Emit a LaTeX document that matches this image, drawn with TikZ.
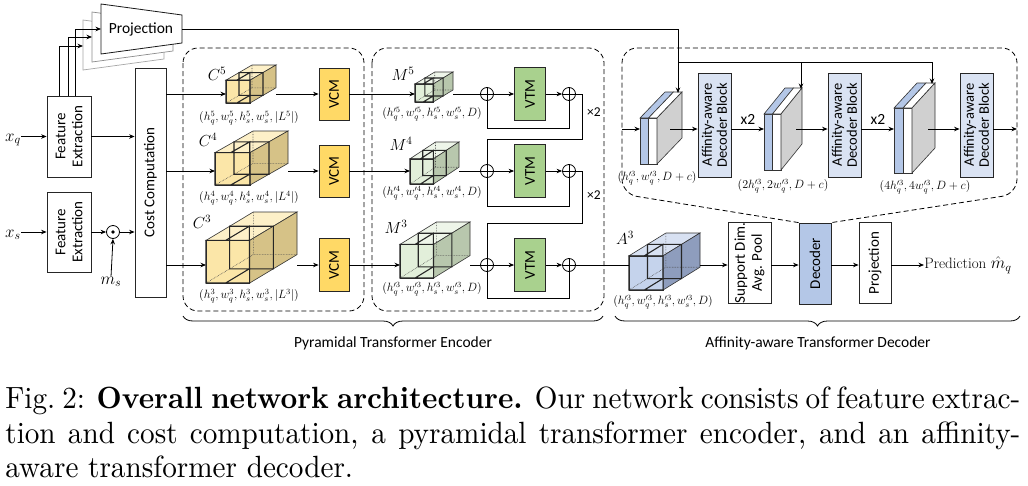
\RequirePackage{fix-cm}
\documentclass[tikz,border=0pt]{standalone}
\usepackage{fontspec}
\newfontfamily\calib{Carlito}
\usetikzlibrary{arrows.meta,decorations.pathreplacing,calc}
\definecolor{vcmfill}{HTML}{FFD966}
\definecolor{vtmfill}{HTML}{A9D18E}
\definecolor{decfill}{HTML}{B4C7E7}
\definecolor{adbfill}{HTML}{DAE3F3}
\definecolor{slabgray}{HTML}{D0D0D0}
\definecolor{Cfront}{HTML}{FBE6A8}
\definecolor{Ctop}{HTML}{FDF0C8}
\definecolor{Cside}{HTML}{D6C287}
\definecolor{Mfront}{HTML}{E2EFDA}
\definecolor{Mtop}{HTML}{EEF5E9}
\definecolor{Mside}{HTML}{B8C7AD}
\definecolor{Afront}{HTML}{C5D3EC}
\definecolor{Atop}{HTML}{D8E1F2}
\definecolor{Aside}{HTML}{8E9DBD}
\newcommand\volcube[5]{%
 \pgfmathsetmacro\vcdx{0.52*(#3-#1)}%
 \pgfmathsetmacro\vcdy{0.4*(#4-#2)}%
 \pgfmathsetmacro\vcfw{(#3-#1)-\vcdx}%
 \pgfmathsetmacro\vcfh{(#4-#2)-\vcdy}%
 \begin{scope}[shift={(#1,{#2+\vcdy})},x={(\vcfw pt,0pt)},y={(0pt,-\vcfh pt)},z={(\vcdx pt,\vcdy pt)},line width=0.6pt]
  \filldraw[fill=#5front,draw=black!80] (0,0,0)--(1,0,0)--(1,1,0)--(0,1,0)--cycle;
  \filldraw[fill=#5top,draw=black!80] (0,0,0)--(0,0,1)--(1,0,1)--(1,0,0)--cycle;
  \filldraw[fill=#5side,draw=black!80] (1,0,0)--(1,0,1)--(1,1,1)--(1,1,0)--cycle;
  \draw[densely dotted,black!70] (0,1,0)--(0,1,1)--(1,1,1) (0,0,1)--(0,1,1);
  \draw[line width=1.1pt,black!85] (0,0,0)--(1,0,0)--(1,1,0)--(0,1,0)--cycle
    (0,0,0.5)--(1,0,0.5)--(1,1,0.5)--(0,1,0.5)--cycle
    (0.45,0,0)--(0.45,0,0.5)--(0.45,1,0.5)--(0.45,1,0);
 \end{scope}}
\newcommand\slab[6]{%
 \pgfmathsetmacro\slm{(#1+#3)/2}%
 \begin{scope}[line width=0.6pt,draw=black!80]
 \filldraw[fill=decfill] (#1,#2) rectangle (\slm,#4);
 \filldraw[fill=white] (\slm,#2) rectangle (#3,#4);
 \filldraw[fill=decfill] (#1,#2)--({#1+#5},{#2-#6})--({\slm+#5},{#2-#6})--(\slm,#2)--cycle;
 \filldraw[fill=white] (\slm,#2)--({\slm+#5},{#2-#6})--({#3+#5},{#2-#6})--(#3,#2)--cycle;
 \filldraw[fill=slabgray] (#3,#2)--({#3+#5},{#2-#6})--({#3+#5},{#4-#6})--(#3,#4)--cycle;
 \end{scope}}
\begin{document}
\begin{tikzpicture}[x=1pt,y=-1pt,line width=0.8pt,>={Stealth[length=5.5pt,width=4.5pt]},
 box/.style={draw=black!85,line width=0.8pt,inner sep=0pt},
 lbl/.style={font=\calib\fontsize{15}{17}\selectfont,rotate=90,align=center,inner sep=0pt},
 lblb/.style={font=\calib\fontsize{14.5}{15}\selectfont,rotate=90,align=center,inner sep=0pt},
 dimlbl/.style={font=\fontsize{12}{14}\selectfont,inner sep=0pt},
 vlbl/.style={font=\fontsize{16}{19}\selectfont,inner sep=0pt},
 sumc/.style={circle,draw,minimum size=13pt,inner sep=0pt,line width=0.8pt},
 dashbox/.style={draw,dash pattern=on 5pt off 3pt,line width=0.8pt,rounded corners=15pt},
 brc/.style={decorate,decoration={brace,mirror,amplitude=10pt},line width=0.8pt},
 txt/.style={font=\calib\fontsize{15.5}{18}\selectfont,inner sep=0pt},
 capline/.style={inner sep=0pt,anchor=base west}]
\useasboundingbox (0,0) rectangle (1028,485);
\fill[white] (0,0) rectangle (1028,485);
% ---------------- left part
\node[vlbl,font=\fontsize{17}{20}\selectfont] (xq) at (13,140) {$x_q$};
\node[vlbl,font=\fontsize{17}{20}\selectfont] (xs) at (13,235) {$x_s$};
\node[box,minimum width=44,minimum height=81] (feq) at (69,136.5) {};
\node[lbl] (feqt) at (feq) {Feature\\Extraction};
\node[box,minimum width=44,minimum height=80] (fes) at (69,232) {};
\node[lbl] (fest) at (fes) {Feature\\Extraction};
\node[sumc] (od) at (113,232) {};
\fill (od) circle (1.9);
\node[vlbl,font=\fontsize{17}{20}\selectfont] (ms) at (111,282) {$m_s$};
\node[box,minimum width=31,minimum height=229] (cost) at (150.5,182.5) {};
\node[lbl] (costt) at (cost) {Cost Computation};
\draw[->] (xq.east |- feq) -- (feq.west);
\draw[->] (xs.east |- fes) -- (fes.west);
\draw[->] (fes.east) -- (od.west);
\draw[->] (od.east) -- (od.east -| cost.west);
\draw[->] (ms.north) -- (od.south);
\draw[->] (feq.east) -- (feq.east -| cost.west);
% projection stack
\filldraw[fill=white,draw=black!35,line width=0.7pt] (83,20) -- (164,31) -- (164,59) -- (83,70) -- cycle;
\filldraw[fill=white,draw=black!45,line width=0.7pt] (92,12) -- (173,23) -- (173,51) -- (92,62) -- cycle;
\filldraw[fill=white,draw=black!90,line width=0.8pt] (101,4) -- (182,15) -- (182,43) -- (101,54) -- cycle;
\node[txt] (projt) at (141,29) {Projection};
\coordinate (pb3) at (83,46);
\coordinate (pb2) at (92,37);
\coordinate (pb1) at (101,29);
\draw[->] ($(feq.north west)+(13,0)$) |- (pb3);
\draw[->] ($(feq.north west)+(22,0)$) |- (pb2);
\draw[->] ($(feq.north west)+(29,0)$) |- (pb1);
% ---------------- encoder part 1
\draw[dashbox] (183,48) rectangle (364,311);
\volcube{226}{65}{276}{103}{C}
\volcube{215}{131}{288}{185}{C}
\volcube{206}{212}{297}{283}{C}
\coordinate (c5in) at (226,94); \coordinate (c5out) at (276,94);
\coordinate (c4in) at (215,171); \coordinate (c4out) at (288,171);
\coordinate (c3in) at (206,265); \coordinate (c3out) at (297,265);
\node[vlbl] (c5l) at (217,74) {$C^5$};
\node[vlbl] (c4l) at (208,140) {$C^4$};
\node[vlbl] (c3l) at (202,222) {$C^3$};
\node[dimlbl] (c5d) at (249,118) {$(h_q^5,w_q^5,h_s^5,w_s^5,|L^5|)$};
\node[dimlbl] (c4d) at (249,198) {$(h_q^4,w_q^4,h_s^4,w_s^4,|L^4|)$};
\node[dimlbl] (c3d) at (249,296) {$(h_q^3,w_q^3,h_s^3,w_s^3,|L^3|)$};
\node[box,fill=vcmfill,minimum width=30,minimum height=52] (vcm5) at (334,94) {};
\node[box,fill=vcmfill,minimum width=30,minimum height=52] (vcm4) at (334,171) {};
\node[box,fill=vcmfill,minimum width=30,minimum height=53] (vcm3) at (334,265) {};
\node[lbl] (vcm5t) at (vcm5) {VCM};
\node[lbl] (vcm4t) at (vcm4) {VCM};
\node[lbl] (vcm3t) at (vcm3) {VCM};
\draw[->] (cost.east |- c5in) -- (c5in);
\draw[->] (cost.east |- c4in) -- (c4in);
\draw[->] (cost.east |- c3in) -- (c3in);
\draw[->] (c5out) -- (vcm5.west);
\draw[->] (c4out) -- (vcm4.west);
\draw[->] (c3out) -- (vcm3.west);
% ---------------- encoder part 2
\draw[dashbox] (372,48) rectangle (604,311);
\volcube{415}{72}{453}{102}{M}
\volcube{410}{142}{459}{184}{M}
\volcube{400}{222}{470}{278}{M}
\coordinate (m5in) at (415,94); \coordinate (m5out) at (453,94);
\coordinate (m4in) at (410,171); \coordinate (m4out) at (459,171);
\coordinate (m3in) at (400,265); \coordinate (m3out) at (470,265);
\node[vlbl] (m5l) at (403,74) {$M^5$};
\node[vlbl] (m4l) at (401,144) {$M^4$};
\node[vlbl] (m3l) at (396,227) {$M^3$};
\node[dimlbl] (m5d) at (432,114) {$(h_q^{\prime5},w_q^{\prime5},h_s^{\prime5},w_s^{\prime5},D)$};
\node[dimlbl] (m4d) at (432,193) {$(h_q^{\prime4},w_q^{\prime4},h_s^{\prime4},w_s^{\prime4},D)$};
\node[dimlbl] (m3d) at (432,289) {$(h_q^{\prime3},w_q^{\prime3},h_s^{\prime3},w_s^{\prime3},D)$};
\draw[->] (vcm5.east) -- (m5in);
\draw[->] (vcm4.east) -- (m4in);
\draw[->] (vcm3.east) -- (m3in);
\foreach \r/\yy in {5/94,4/171,3/265}{
  \node[sumc] (o\r1) at (487,\yy) {};
  \node[sumc] (o\r2) at (569,\yy) {};
  \draw (o\r1.north) -- (o\r1.south) (o\r1.west) -- (o\r1.east);
  \draw (o\r2.north) -- (o\r2.south) (o\r2.west) -- (o\r2.east);
  \node[box,fill=vtmfill,minimum width=31,minimum height=53] (vtm\r) at (530,\yy) {};
  \node[lbl] (vtm\r t) at (vtm\r) {VTM};
  \draw (m\r out) -- (o\r1.west);
  \draw[->] (o\r1.east) -- (vtm\r.west);
  \draw[->] (vtm\r.east) -- (o\r2.west);
}
\draw (o51.south) -- (487,128) -- (569,128) -- (o52.south);
\draw (o52.east) -- (582,94) -- (582,139) -- (487,139) -- (o41.north);
\draw (o41.south) -- (487,206) -- (569,206) -- (o42.south);
\draw (o42.east) -- (582,171) -- (582,223) -- (487,223) -- (o31.north);
\draw (o31.south) -- (487,298) -- (569,298) -- (o32.south);
\node[font=\calib\fontsize{13.5}{16}\selectfont,inner sep=0pt] (x2a) at (594,112) {×2};
\node[font=\calib\fontsize{13.5}{16}\selectfont,inner sep=0pt] (x2b) at (594,195) {×2};
% ---------------- decoder bottom row
\volcube{629}{233}{700}{290}{A}
\coordinate (a3in) at (629,265); \coordinate (a3out) at (700,265);
\node[vlbl] (a3l) at (625,238) {$A^3$};
\node[dimlbl] (a3d) at (663,302) {$(h_q^{\prime3},w_q^{\prime3},h_s^{\prime3},w_s^{\prime3},D)$};
\draw (o32.east) -- (a3in);
\node[box,minimum width=43,minimum height=81] (supp) at (749.5,263) {};
\node[lbl] (suppt) at (supp) {Support Dim.\\Avg. Pool};
\node[box,fill=decfill,minimum width=32,minimum height=81] (dec) at (815,263.5) {};
\node[lbl] (dect) at (dec) {Decoder};
\node[box,minimum width=32,minimum height=81] (proj2) at (875,263) {};
\node[lbl] (proj2t) at (proj2) {Projection};
\node[font=\fontsize{15}{18}\selectfont,inner sep=0pt,anchor=west] (pred) at (924,265) {Prediction {\fontsize{17}{20}\selectfont$\hat{m}_q$}};
\draw[->] (a3out) -- (a3out -| supp.west);
\draw[->] (supp.east |- a3out) -- (dec.west |- a3out);
\draw[->] (dec.east |- a3out) -- (proj2.west |- a3out);
\draw[->] (proj2.east |- a3out) -- (pred.west);
% ---------------- decoder zoom box
\draw[dashbox] (dec.north west) -- (622,194) -- (622,48) -- (1017,48) -- (1017,194) -- (dec.north east);
\slab{640}{118}{657}{164}{25}{26}
\slab{764}{114}{781}{170}{21}{26}
\slab{894}{108}{912}{173}{23}{25}
\node[box,fill=adbfill,minimum width=33,minimum height=104] (adb1) at (714.5,125) {};
\node[box,fill=adbfill,minimum width=33,minimum height=104] (adb2) at (844.5,125) {};
\node[box,fill=adbfill,minimum width=33,minimum height=104] (adb3) at (976.5,125) {};
\node[lblb] (adb1t) at (adb1) {Affinity-aware\\Decoder Block};
\node[lblb] (adb2t) at (adb2) {Affinity-aware\\Decoder Block};
\node[lblb] (adb3t) at (adb3) {Affinity-aware\\Decoder Block};
\coordinate (din) at (622,129); \coordinate (s1in) at (640,129); \coordinate (s1out) at (670,129);
\coordinate (s2in) at (764,129); \coordinate (s2out) at (796,129);
\coordinate (s3in) at (894,129); \coordinate (s3out) at (928,129);
\coordinate (dout) at (1017,129);
\draw[->] (din) -- (s1in);
\draw[->] (s1out) -- (s1out -| adb1.west);
\draw[->] (adb1.east |- s2in) -- (s2in);
\draw[->] (s2out) -- (s2out -| adb2.west);
\draw[->] (adb2.east |- s3in) -- (s3in);
\draw[->] (s3out) -- (s3out -| adb3.west);
\draw[->] (adb3.east |- dout) -- (dout);
\node[txt] (x2c) at (748,119) {x2};
\node[txt] (x2d) at (878,119) {x2};
\node[dimlbl] (s1d) at (657,178) {$(h_q^{\prime3},w_q^{\prime3},D+c)$};
\node[dimlbl] (s2d) at (783,186) {$(2h_q^{\prime3},2w_q^{\prime3},D+c)$};
\node[dimlbl] (s3d) at (925,187) {$(4h_q^{\prime3},4w_q^{\prime3},D+c)$};
% projection feed
\coordinate (pr) at (182,29);
\coordinate (s1top) at (678,93);
\coordinate (j1) at (678,62); \coordinate (j2) at (801,62); \coordinate (j3) at (932,62);
\coordinate (s2top) at (801,89); \coordinate (s3top) at (932,84);
\draw[->] (pr) -| (s1top);
\draw (j1) -- (j3);
\draw[->] (j2) -- (s2top);
\draw[->] (j3) -- (s3top);
% ---------------- braces
\draw[brc] (183,316) -- (603,316);
\draw[brc] (615,316) -- (1020,316);
\node[txt] (enclbl) at (393,343) {Pyramidal Transformer Encoder};
\node[txt] (declbl) at (818,343) {Affinity-aware Transformer Decoder};
% ---------------- caption
\node[capline] (cap1) at (5,408) {\scalebox{2.92}[3.07]{\fontsize{10}{12}\selectfont\makebox[347.6pt][s]{Fig.~2: \textbf{Overall network architecture.} Our network consists of feature extrac-}}};
\node[capline] (cap2) at (5,443) {\scalebox{2.92}[3.07]{\fontsize{10}{12}\selectfont\makebox[347.6pt][s]{tion and cost computation, a pyramidal transformer encoder, and an affinity-}}};
\node[capline] (cap3) at (5,477) {\scalebox{2.92}[3.07]{\fontsize{10}{12}\selectfont aware transformer decoder.}};
\end{tikzpicture}
\end{document}
